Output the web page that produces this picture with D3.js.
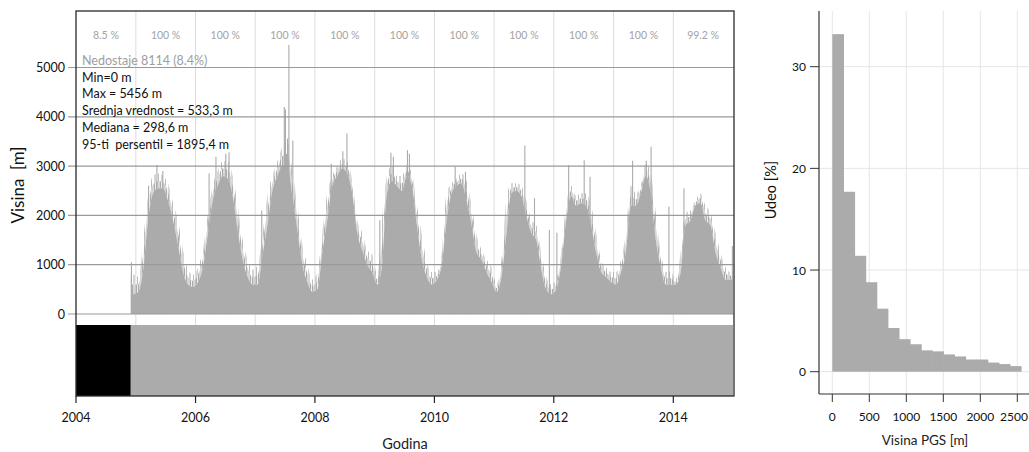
<!DOCTYPE html>
<html>
<head>
<meta charset="utf-8">
<script src="https://cdn.jsdelivr.net/npm/d3@7"></script>
<style>
  body { margin: 0; background: #fff; }
  svg { display: block; font-family: Lato, sans-serif; }
</style>
</head>
<body>
<svg id="chart"></svg>
<script>
// ---- data ----
const years = [2004, 2005, 2006, 2007, 2008, 2009, 2010, 2011, 2012, 2013, 2014]
const yearPct = ["8.5 %", "100 %", "100 %", "100 %", "100 %", "100 %", "100 %", "100 %", "100 %", "100 %", "99.2 %"]

// availability strip (black = missing, grey = data)
const coverage = [
  { from: "2004-01-01", to: "2004-12-01", ok: false },
  { from: "2004-12-01", to: "2015-01-01", ok: true }
]

// monthly envelope of the hourly series, Dec 2004 .. Dec 2014
const firstMonth = "2004-12-01"
const bodyTop = [400,
  450, 900, 1900, 2450, 2550, 2550, 2300, 1900, 1400, 850, 600, 550,
  650, 950, 1600, 2300, 2600, 2800, 2750, 2400, 1700, 1100, 750, 600,
  600, 1200, 1800, 2500, 2800, 3000, 3000, 2400, 1700, 1000, 650, 450,
  500, 1250, 1900, 2600, 2800, 2950, 2850, 2450, 1650, 1300, 1000, 850,
  600, 1000, 2450, 2700, 2600, 2500, 2800, 2600, 1800, 1100, 750, 600,
  700, 1000, 1900, 2450, 2600, 2650, 2300, 1800, 1250, 1100, 850, 650,
  450, 750, 1600, 2450, 2500, 2400, 2000, 1650, 1500, 900, 500, 400,
  500, 1000, 1900, 2400, 2200, 2250, 2200, 1800, 1250, 850, 750, 650,
  600, 850, 1250, 2200, 2200, 2450, 2800, 2450, 1500, 950, 600, 600,
  600, 850, 1800, 1900, 2200, 2250, 1900, 1800, 1250, 950, 700, 700]
const spikeTop = [800,
  750, 1500, 2400, 2800, 2850, 2800, 2650, 2250, 1900, 1300, 900, 800,
  950, 1300, 2000, 2600, 2900, 3100, 3100, 2800, 2200, 1500, 1100, 900,
  1000, 1600, 2400, 2800, 3100, 3400, 3500, 2900, 2200, 1400, 1000, 700,
  850, 1650, 2450, 2800, 3000, 3150, 3100, 2700, 1900, 1650, 1300, 1200,
  800, 1900, 2800, 3000, 2800, 2800, 3000, 2850, 2200, 1600, 1050, 850,
  850, 1250, 2450, 2650, 2750, 2850, 2700, 2200, 1600, 1300, 1100, 950,
  600, 1100, 2300, 2650, 2650, 2600, 2300, 1900, 1800, 1250, 750, 600,
  700, 1250, 2200, 2600, 2400, 2450, 2450, 2200, 1650, 1100, 950, 850,
  850, 1100, 1650, 2600, 2450, 2600, 3050, 2850, 2050, 1250, 850, 850,
  700, 1250, 2050, 2100, 2300, 2450, 2200, 2050, 1650, 1250, 950, 850]

// isolated tall spikes
const peakDates = ["2004-12-05", "2005-03-20", "2005-05-10", "2005-06-15",
  "2006-03-25", "2006-05-06", "2006-07-05", "2006-07-25",
  "2007-02-10", "2007-06-28", "2007-07-05", "2007-07-18", "2007-07-26", "2007-08-19",
  "2008-04-10", "2008-06-20", "2008-07-15",
  "2009-02-01", "2009-04-10", "2009-04-25", "2009-07-20", "2009-08-01",
  "2010-05-08", "2010-07-10",
  "2011-07-08", "2011-09-05", "2011-12-05",
  "2012-01-20", "2012-04-01", "2012-07-05", "2012-08-10",
  "2013-04-27", "2013-07-20", "2013-08-18", "2013-12-05",
  "2014-03-07", "2014-12-28"]
const peakValues = [1050, 2600, 3020, 2900,
  2850, 3190, 3250, 3280,
  2100, 4200, 4150, 3560, 5456, 3520,
  3050, 3300, 3660,
  1900, 3270, 3190, 3320, 3250,
  2990, 2885,
  3420, 2350, 1710,
  1650, 3020, 3120, 2785,
  3110, 3110, 3390, 2180,
  2550, 1380]

const missingNote = "Nedostaje 8114 (8.4%)"
const statLines = ["Min=0 m", "Max = 5456 m", "Srednja vrednost = 533,3 m", "Mediana = 298,6 m", "95-ti  persentil = 1895,4 m"]
const yTicks = [0, 1000, 2000, 3000, 4000, 5000]
const xTickYears = [2004, 2006, 2008, 2010, 2012, 2014]

// histogram (150 m bins)
const binStart = [0, 150, 300, 450, 600, 750, 900, 1050, 1200, 1350, 1500, 1650, 1800, 1950, 2100, 2250, 2400]
const binShare = [33.2, 17.7, 11.4, 8.8, 6.2, 4.3, 3.2, 2.7, 2.1, 2.0, 1.7, 1.5, 1.2, 1.2, 0.9, 0.75, 0.55]
const histXTicks = [0, 500, 1000, 1500, 2000, 2500]
const histYTicks = [0, 10, 20, 30]

// ---- drawing ----
const width = 1029, height = 452
const svg = d3.select("#chart").attr("width", width).attr("height", height)
const parse = d3.timeParse("%Y-%m-%d")
const grey = "#ababab"

const pLeft = 76, pRight = 734, pTop = 11, pBottom = 396
const x = d3.scaleTime().domain([new Date(2004, 0, 1), new Date(2015, 0, 1)]).range([pLeft, 733])
const y = d3.scaleLinear().domain([0, 5000]).range([314, 67.5])

// textures for the spiky band
const defs = svg.append("defs")
const dense = defs.append("pattern").attr("id", "dense").attr("patternUnits", "userSpaceOnUse")
  .attr("width", 6).attr("height", 10)
dense.append("rect").attr("x", 0).attr("width", 1.5).attr("height", 10).attr("fill", grey)
dense.append("rect").attr("x", 2.5).attr("width", 1).attr("height", 10).attr("fill", grey)
dense.append("rect").attr("x", 4).attr("width", 1.2).attr("height", 10).attr("fill", grey)
const sparse = defs.append("pattern").attr("id", "sparse").attr("patternUnits", "userSpaceOnUse")
  .attr("width", 7).attr("height", 10)
sparse.append("rect").attr("x", 0.5).attr("width", 1).attr("height", 10).attr("fill", grey)
sparse.append("rect").attr("x", 4).attr("width", 0.8).attr("height", 10).attr("fill", grey)

// year grid
svg.append("g").selectAll("line").data(years.slice(1)).enter().append("line")
  .attr("x1", d => x(new Date(d, 0, 1))).attr("x2", d => x(new Date(d, 0, 1)))
  .attr("y1", pTop).attr("y2", 325)
  .attr("stroke", "#dcdcdc").attr("stroke-width", 1)

// percent of data per year
svg.append("g").selectAll("text").data(years).enter().append("text")
  .attr("x", d => x(new Date(d, 6, 2)))
  .attr("y", 35)
  .attr("text-anchor", "middle").attr("dominant-baseline", "central")
  .attr("font-size", 10.5).attr("fill", "#a3a3a3")
  .text((d, i) => yearPct[i])

// series
const m0 = parse(firstMonth)
const months = bodyTop.map((v, i) => {
  const s = d3.timeMonth.offset(m0, i)
  const e = d3.timeMonth.offset(m0, i + 1)
  return { date: new Date((+s + +e) / 2), body: v, top: spikeTop[i] }
})
const edges = [{ date: m0, body: bodyTop[0], top: spikeTop[0] }]
  .concat(months)
  .concat([{ date: new Date(2014, 11, 31), body: bodyTop[bodyTop.length - 1], top: spikeTop[spikeTop.length - 1] }])

const mid = d => d.body + (d.top - d.body) * 0.5
const series = svg.append("g")
series.append("path").datum(edges)
  .attr("d", d3.area().curve(d3.curveMonotoneX).x(d => x(d.date)).y0(d => y(mid(d))).y1(d => y(d.top)))
  .attr("fill", "url(#sparse)")
series.append("path").datum(edges)
  .attr("d", d3.area().curve(d3.curveMonotoneX).x(d => x(d.date)).y0(d => y(d.body)).y1(d => y(mid(d))))
  .attr("fill", "url(#dense)")
series.append("path").datum(edges)
  .attr("d", d3.area().curve(d3.curveMonotoneX).x(d => x(d.date)).y0(y(0)).y1(d => y(d.body)))
  .attr("fill", grey)
series.selectAll("line").data(peakDates).enter().append("line")
  .attr("x1", d => x(parse(d))).attr("x2", d => x(parse(d)))
  .attr("y1", y(0)).attr("y2", (d, i) => y(peakValues[i]))
  .attr("stroke", grey).attr("stroke-width", 1.1)

// horizontal grid, with ticks sticking out left
svg.append("g").selectAll("line").data(yTicks).enter().append("line")
  .attr("x1", 68).attr("x2", pRight)
  .attr("y1", d => y(d)).attr("y2", d => y(d))
  .attr("stroke", "#9a9a9a").attr("stroke-width", 1.2)
svg.append("g").selectAll("text").data(yTicks).enter().append("text")
  .attr("x", 65).attr("y", d => y(d))
  .attr("text-anchor", "end").attr("dominant-baseline", "central")
  .attr("font-size", 12.5).attr("fill", "#111")
  .text(d => d)

// availability strip
svg.append("g").selectAll("rect").data(coverage).enter().append("rect")
  .attr("x", d => x(parse(d.from)))
  .attr("width", d => Math.min(x(parse(d.to)), pRight) - x(parse(d.from)))
  .attr("y", 325).attr("height", pBottom - 325)
  .attr("fill", d => d.ok ? grey : "#000")

// frame
svg.append("rect").attr("x", pLeft).attr("y", pTop).attr("width", pRight - pLeft).attr("height", pBottom - pTop)
  .attr("fill", "none").attr("stroke", "#2a2a2a").attr("stroke-width", 1.3)

// x axis
const xAxis = svg.append("g")
xAxis.selectAll("line").data(xTickYears).enter().append("line")
  .attr("x1", d => x(new Date(d, 0, 1))).attr("x2", d => x(new Date(d, 0, 1)))
  .attr("y1", pBottom).attr("y2", 403)
  .attr("stroke", "#222").attr("stroke-width", 1.2)
xAxis.selectAll("text").data(xTickYears).enter().append("text")
  .attr("x", d => x(new Date(d, 0, 1))).attr("y", 417)
  .attr("text-anchor", "middle").attr("dominant-baseline", "central")
  .attr("font-size", 12.5).attr("fill", "#111")
  .text(d => d)

svg.append("text").attr("x", 405).attr("y", 443)
  .attr("text-anchor", "middle").attr("dominant-baseline", "central")
  .attr("font-size", 14.5).attr("fill", "#222").text("Godina")
svg.append("text").attr("transform", "translate(17,185) rotate(-90)")
  .attr("text-anchor", "middle").attr("dominant-baseline", "central")
  .style("white-space", "pre")
  .attr("font-size", 17).attr("fill", "#111").text("Visina  [m]")

// stats block
svg.append("text").attr("x", 82).attr("y", 60).attr("dominant-baseline", "central")
  .attr("font-size", 12.5).attr("fill", "#9e9e9e").text(missingNote)
svg.append("g").selectAll("text").data(statLines).enter().append("text")
  .attr("x", 82).attr("y", (d, i) => 77 + i * 16.8)
  .attr("dominant-baseline", "central")
  .style("white-space", "pre")
  .attr("font-size", 12.5).attr("fill", "#111")
  .text(d => d)

// ---- histogram ----
const hx = d3.scaleLinear().domain([0, 2500]).range([832.3, 1017.3])
const hy = d3.scaleLinear().domain([0, 30]).range([371.7, 66.7])
const hLeft = 819, hBottom = 394, hTop = 11

const hist = svg.append("g")
hist.selectAll(".vg").data(histXTicks).enter().append("line")
  .attr("x1", d => hx(d)).attr("x2", d => hx(d)).attr("y1", hTop).attr("y2", hBottom)
  .attr("stroke", "#e6e6e6")
hist.selectAll(".hg").data(histYTicks).enter().append("line")
  .attr("x1", hLeft).attr("x2", width).attr("y1", d => hy(d)).attr("y2", d => hy(d))
  .attr("stroke", "#e6e6e6")
hist.selectAll("rect").data(binStart).enter().append("rect")
  .attr("x", d => hx(d)).attr("width", d => hx(d + 150) - hx(d) + 0.6)
  .attr("y", (d, i) => hy(binShare[i])).attr("height", (d, i) => hy(0) - hy(binShare[i]))
  .attr("fill", grey)

hist.append("line").attr("x1", hLeft).attr("x2", hLeft).attr("y1", hTop).attr("y2", hBottom)
  .attr("stroke", "#333").attr("stroke-width", 1.2)
hist.append("line").attr("x1", hLeft).attr("x2", width).attr("y1", hBottom).attr("y2", hBottom)
  .attr("stroke", "#333").attr("stroke-width", 1.2)

hist.selectAll(".yt").data(histYTicks).enter().append("line")
  .attr("x1", 810).attr("x2", hLeft).attr("y1", d => hy(d)).attr("y2", d => hy(d))
  .attr("stroke", "#333")
hist.selectAll(".ytl").data(histYTicks).enter().append("text")
  .attr("x", 806).attr("y", d => hy(d))
  .attr("text-anchor", "end").attr("dominant-baseline", "central")
  .attr("font-size", 12).attr("fill", "#111").text(d => d)
hist.selectAll(".xt").data(histXTicks).enter().append("line")
  .attr("x1", d => hx(d)).attr("x2", d => hx(d)).attr("y1", hBottom).attr("y2", 402)
  .attr("stroke", "#333")
hist.selectAll(".xtl").data(histXTicks).enter().append("text")
  .attr("x", d => Math.min(hx(d), 1014)).attr("y", 416)
  .attr("text-anchor", "middle").attr("dominant-baseline", "central")
  .attr("font-size", 12).attr("fill", "#111").text(d => d)

svg.append("text").attr("x", 925).attr("y", 440)
  .attr("text-anchor", "middle").attr("dominant-baseline", "central")
  .attr("font-size", 13.5).attr("fill", "#222").text("Visina PGS [m]")
svg.append("text").attr("transform", "translate(770,190) rotate(-90)")
  .attr("text-anchor", "middle").attr("dominant-baseline", "central")
  .attr("font-size", 14.5).attr("fill", "#111").text("Udeo [%]")
</script>
</body>
</html>
